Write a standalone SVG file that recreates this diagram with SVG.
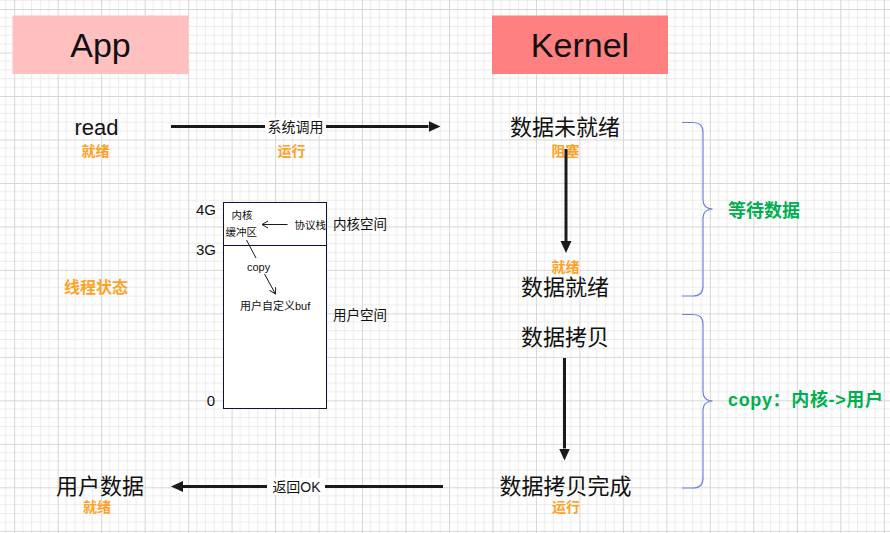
<svg xmlns="http://www.w3.org/2000/svg" width="890" height="533" viewBox="0 0 890 533">
<defs>
<pattern id="grid" patternUnits="userSpaceOnUse" x="14.2" y="9.04" width="43.478" height="43.478">
<path d="M8.696,0V43.478M17.391,0V43.478M26.087,0V43.478M34.783,0V43.478M0,8.696H43.478M0,17.391H43.478M0,26.087H43.478M0,34.783H43.478" stroke="#ebebeb" stroke-width="1" fill="none"/>
<path d="M0.5,0V43.478M0,0.5H43.478" stroke="#d6d6d6" stroke-width="1" fill="none"/>
</pattern>
<marker id="ah" markerUnits="userSpaceOnUse" markerWidth="12" markerHeight="12" refX="0" refY="5.5" orient="auto">
<path d="M0,0 L12,5.5 L0,11 Z" fill="#1a1a1a"/>
</marker>
<marker id="oh" markerUnits="userSpaceOnUse" markerWidth="10" markerHeight="10" refX="6" refY="4" orient="auto">
<path d="M0,0.5 L6,4 L0,7.5" fill="none" stroke="#1a1a1a" stroke-width="1"/>
</marker>
</defs>
<style>
text{font-family:"Liberation Sans","Noto Sans CJK SC",sans-serif;fill:#111}
.big{font-size:22px;text-anchor:middle}
.st{font-size:14px;font-weight:bold;fill:#FFA126;text-anchor:middle}
.grn{font-size:18px;font-weight:bold;fill:#00B050}
.lbl{font-size:14px;text-anchor:middle}
.sm{font-size:10.5px}
.thick{stroke:#1a1a1a;stroke-width:3;fill:none}
.thin{stroke:#1a1a1a;stroke-width:1;fill:none}
.brace{stroke:#7080e0;stroke-width:1.2;fill:none}
</style>
<rect width="890" height="533" fill="#ffffff"/>
<rect width="890" height="533" fill="url(#grid)"/>

<g id="app">
<rect x="12.5" y="15.5" width="176" height="58.5" fill="#ffc0bf"/>
<text x="100.5" y="57" style="font-size:34px;text-anchor:middle">App</text>
</g>
<g id="kernel">
<rect x="492" y="15.5" width="176" height="58.5" fill="#ff8080"/>
<text x="580" y="57" style="font-size:34px;text-anchor:middle">Kernel</text>
</g>

<g id="read">
<text class="big" x="96.5" y="134.5">read</text>
<text class="st" x="95.5" y="156">就绪</text>
</g>
<g id="syscall-state">
<text class="st" x="291.5" y="156">运行</text>
</g>
<g id="data-not-ready">
<text class="big" x="565" y="135">数据未就绪</text>
<text class="st" x="565.5" y="156">阻塞</text>
</g>
<g id="data-ready">
<text class="st" x="565.5" y="272">就绪</text>
<text class="big" x="565" y="295">数据就绪</text>
</g>
<g id="data-copy">
<text class="big" x="565" y="345">数据拷贝</text>
</g>
<g id="copy-done">
<text class="big" x="565.5" y="494">数据拷贝完成</text>
<text class="st" x="566" y="512">运行</text>
</g>
<g id="user-data">
<text class="big" x="100" y="494">用户数据</text>
<text class="st" x="97" y="512">就绪</text>
</g>
<g id="thread-state">
<text x="96" y="293" style="font-size:16px;font-weight:bold;fill:#FFA126;text-anchor:middle">线程状态</text>
</g>

<g id="memory">
<rect x="223.5" y="202.5" width="103" height="206" fill="#ffffff" stroke="#10103a" stroke-width="1"/>
<line x1="223.5" y1="245.5" x2="326.5" y2="245.5" stroke="#10103a" stroke-width="1"/>
<text x="216" y="215" style="font-size:15px;text-anchor:end">4G</text>
<text x="216" y="255" style="font-size:15px;text-anchor:end">3G</text>
<text x="215" y="406" style="font-size:15px;text-anchor:end">0</text>
<text class="sm" x="231.5" y="219">内核</text>
<text class="sm" x="225.5" y="236">缓冲区</text>
<text class="sm" x="294.5" y="229">协议栈</text>
<text x="247" y="271" style="font-size:11px">copy</text>
<text x="240" y="310" style="font-size:11px">用户自定义buf</text>
<text x="333" y="229" style="font-size:13.5px">内核空间</text>
<text x="333" y="320" style="font-size:13.5px">用户空间</text>
</g>

<g id="brace-wait">
<path class="brace" d="M682,122.5 H693 Q703,122.5 703,132 V200 Q703,208.5 712.5,209 Q703,209.5 703,218 V286 Q703,296 693,296 H682"/>
<text class="grn" x="728" y="217">等待数据</text>
</g>
<g id="brace-copy">
<path class="brace" d="M682,314.5 H693 Q703,314.5 703,324 V392 Q703,400.5 712.5,401 Q703,401.5 703,410 V478 Q703,488 693,488 H682"/>
<text class="grn" x="728" y="406" textLength="155">copy：内核-&gt;用户</text>
</g>

<g id="connectors">
<line class="thick" x1="171" y1="126.5" x2="428.5" y2="126.5" marker-end="url(#ah)"/>
<rect x="265" y="118" width="61" height="17" fill="#ffffff"/>
<text class="lbl" x="295.5" y="131.5">系统调用</text>
<line class="thick" x1="566" y1="149" x2="566" y2="241" marker-end="url(#ah)"/>
<line class="thick" x1="564.5" y1="358" x2="564.5" y2="448.5" marker-end="url(#ah)"/>
<line class="thick" x1="443" y1="486.5" x2="183" y2="486.5" marker-end="url(#ah)"/>
<rect x="267" y="478" width="58" height="17" fill="#ffffff"/>
<text class="lbl" x="296.5" y="491.5">返回OK</text>
<line class="thin" x1="287.5" y1="224.5" x2="262" y2="224.5" marker-end="url(#oh)"/>
<line class="thin" x1="246.5" y1="240" x2="256" y2="258"/>
<line class="thin" x1="264.5" y1="274" x2="275.5" y2="294" marker-end="url(#oh)"/>
</g>
</svg>
